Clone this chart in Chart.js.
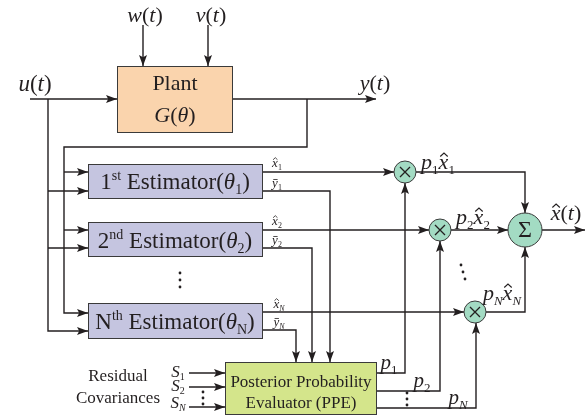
<!DOCTYPE html>
<html>
<head>
<meta charset="utf-8">
<script src="https://cdn.jsdelivr.net/npm/chart.js@4.4.0/dist/chart.umd.min.js"></script>
<style>
  html, body { margin: 0; padding: 0; background: #fff; }
  #wrap { width: 586px; height: 417px; }
</style>
</head>
<body>
<div id="wrap"><canvas id="diagram"></canvas></div>
<script>
// Block diagram of a multiple-model estimator, drawn on a 586 x 417 value grid
const INK = '#231f20';
const FONT = '"Liberation Serif", "Times New Roman", serif';

// blocks: [x0, x1, y0, y1]
const boxRects = [[117, 233, 66, 133], [88, 263, 164, 199], [88, 263, 222, 257], [88, 263, 303, 339], [225, 377, 362, 415]];
const boxFills = ['#fad4ad', '#c5c5e0', '#c5c5e0', '#c5c5e0', '#d4e58b'];

// product / sum junctions
const nodeX = [405, 440, 475, 525];
const nodeY = [172, 230, 312, 230];
const nodeR = [11, 11, 11, 17];
const nodeSym = ['×', '×', '×', 'Σ'];

// signal wires (polylines), arrow at the last point when flagged
const wires = [
    { pts: [[143, 25], [143, 66]], arrow: true },              // w(t)
    { pts: [[208, 25], [208, 66]], arrow: true },              // v(t)
    { pts: [[30, 99], [117, 99]], arrow: true },               // u(t)
    { pts: [[233, 99], [376, 99]], arrow: true },              // y(t)
    { pts: [[48, 99], [48, 331], [88, 331]], arrow: true },
    { pts: [[48, 191], [88, 191]], arrow: true },
    { pts: [[48, 248], [88, 248]], arrow: true },
    { pts: [[307, 99], [307, 147], [64, 147], [64, 313], [88, 313]], arrow: true },
    { pts: [[64, 172], [88, 172]], arrow: true },
    { pts: [[64, 230], [88, 230]], arrow: true },
    { pts: [[263, 172], [394, 172]], arrow: true },            // x1 hat
    { pts: [[263, 191], [330, 191], [330, 362]], arrow: true },
    { pts: [[263, 230], [429, 230]], arrow: true },            // x2 hat
    { pts: [[263, 248], [312, 248], [312, 362]], arrow: true },
    { pts: [[263, 312], [464, 312]], arrow: true },            // xN hat
    { pts: [[263, 330], [296, 330], [296, 362]], arrow: true },
    { pts: [[416, 172], [525, 172], [525, 213]], arrow: true },
    { pts: [[451, 230], [508, 230]], arrow: true },
    { pts: [[486, 312], [525, 312], [525, 247]], arrow: true },
    { pts: [[542, 230], [585, 230]], arrow: true },            // x(t) hat
    { pts: [[377, 373], [405, 373], [405, 183]], arrow: true }, // p1
    { pts: [[377, 391], [440, 391], [440, 241]], arrow: true }, // p2
    { pts: [[377, 408], [476, 408], [476, 323]], arrow: true }, // pN
    { pts: [[189, 373], [225, 373]], arrow: true },            // S1
    { pts: [[189, 387], [225, 387]], arrow: true },            // S2
    { pts: [[189, 407], [225, 407]], arrow: true }             // SN
];

// labels: style r = roman, i = italic, h = italic with hat, b = italic with bar,
// sub / isub = subscript, sup = superscript
const labels = [
    { x: 145, y: 15, s: 22, parts: [['w', 'i'], ['(', 'r'], ['t', 'i'], [')', 'r']] },
    { x: 211, y: 15, s: 22, parts: [['v', 'i'], ['(', 'r'], ['t', 'i'], [')', 'r']] },
    { x: 35, y: 83, s: 23, parts: [['u', 'i'], ['(', 'r'], ['t', 'i'], [')', 'r']] },
    { x: 375, y: 83, s: 22, parts: [['y', 'i'], ['(', 'r'], ['t', 'i'], [')', 'r']] },
    { x: 175, y: 83, s: 22, parts: [['Plant', 'r']] },
    { x: 175, y: 115, s: 22, parts: [['G', 'i'], ['(', 'r'], ['θ', 'i'], [')', 'r']] },
    { x: 175, y: 181, s: 23, parts: [['1', 'r'], ['st', 'sup'], [' Estimator', 'r'], ['(', 'r'], ['θ', 'i'], ['1', 'sub'], [')', 'r']] },
    { x: 175, y: 240, s: 23, parts: [['2', 'r'], ['nd', 'sup'], [' Estimator', 'r'], ['(', 'r'], ['θ', 'i'], ['2', 'sub'], [')', 'r']] },
    { x: 175, y: 321, s: 23, parts: [['N', 'r'], ['th', 'sup'], [' Estimator', 'r'], ['(', 'r'], ['θ', 'i'], ['N', 'sub'], [')', 'r']] },
    { x: 277, y: 163, s: 13, parts: [['x', 'h'], ['1', 'sub']] },
    { x: 277, y: 183, s: 13, parts: [['y', 'b'], ['1', 'sub']] },
    { x: 277, y: 221, s: 13, parts: [['x', 'h'], ['2', 'sub']] },
    { x: 277, y: 240, s: 13, parts: [['y', 'b'], ['2', 'sub']] },
    { x: 279, y: 304, s: 13, parts: [['x', 'h'], ['N', 'isub']] },
    { x: 279, y: 322, s: 13, parts: [['y', 'b'], ['N', 'isub']] },
    { x: 438, y: 162, s: 22, parts: [['p', 'i'], ['1', 'sub'], ['x', 'h'], ['1', 'sub']] },
    { x: 473, y: 217, s: 22, parts: [['p', 'i'], ['2', 'sub'], ['x', 'h'], ['2', 'sub']] },
    { x: 502, y: 293, s: 22, parts: [['p', 'i'], ['N', 'isub'], ['x', 'h'], ['N', 'isub']] },
    { x: 566, y: 213, s: 22, parts: [['x', 'h'], ['(', 'r'], ['t', 'i'], [')', 'r']] },
    { x: 389, y: 362, s: 21, parts: [['p', 'i'], ['1', 'sub']] },
    { x: 422, y: 380, s: 21, parts: [['p', 'i'], ['2', 'sub']] },
    { x: 458, y: 397, s: 21, parts: [['p', 'i'], ['N', 'isub']] },
    { x: 178, y: 371, s: 17, parts: [['S', 'i'], ['1', 'sub']] },
    { x: 178, y: 385, s: 17, parts: [['S', 'i'], ['2', 'sub']] },
    { x: 178, y: 402, s: 17, parts: [['S', 'i'], ['N', 'isub']] },
    { x: 118, y: 375, s: 17, parts: [['Residual', 'r']] },
    { x: 118, y: 397, s: 17, parts: [['Covariances', 'r']] },
    { x: 301, y: 381, s: 17, parts: [['Posterior Probability', 'r']] },
    { x: 301, y: 402, s: 17, parts: [['Evaluator (PPE)', 'r']] }
];

// vertical ellipsis dots: [x, y] of each dot
const dots = [
    [180, 273], [180, 280], [180, 287],
    [203, 392], [203, 398], [203, 404],
    [407, 393], [407, 399], [407, 405],
    [461, 265], [463, 272], [465, 279]
];

function partFont(style, s) {
    const small = style === 'sub' || style === 'isub' || style === 'sup';
    const size = small ? Math.round(s * 0.6) : s;
    const italic = style === 'i' || style === 'h' || style === 'b' || style === 'isub';
    return { font: (italic ? 'italic ' : '') + size + 'px ' + FONT, size: size };
}

function drawRich(ctx, cx, cy, s, parts) {
    const base = cy + s * 0.33;
    const items = parts.map(p => {
        const f = partFont(p[1], s);
        ctx.font = f.font;
        return { t: p[0], style: p[1], font: f.font, w: ctx.measureText(p[0]).width };
    });
    const total = items.reduce((a, it) => a + it.w, 0);
    let x = cx - total / 2;
    ctx.fillStyle = INK;
    ctx.strokeStyle = INK;
    ctx.textAlign = 'left';
    ctx.textBaseline = 'alphabetic';
    items.forEach(it => {
        let y = base;
        if (it.style === 'sub' || it.style === 'isub') y = base + s * 0.22;
        if (it.style === 'sup') y = base - s * 0.38;
        ctx.font = it.font;
        ctx.fillText(it.t, x, y);
        if (it.style === 'h') {
            const mx = x + it.w * 0.55;
            ctx.lineWidth = Math.max(0.8, s * 0.05);
            ctx.beginPath();
            ctx.moveTo(mx - s * 0.17, base - s * 0.58);
            ctx.lineTo(mx, base - s * 0.74);
            ctx.lineTo(mx + s * 0.17, base - s * 0.58);
            ctx.stroke();
        }
        if (it.style === 'b') {
            ctx.lineWidth = Math.max(0.8, s * 0.05);
            ctx.beginPath();
            ctx.moveTo(x + it.w * 0.2, base - s * 0.6);
            ctx.lineTo(x + it.w * 0.95, base - s * 0.6);
            ctx.stroke();
        }
        x += it.w;
    });
}

const diagramPlugin = {
    id: 'diagram',
    beforeDatasetsDraw(chart) {
        const { ctx, scales: { x, y } } = chart;
        ctx.save();
        boxRects.forEach((r, i) => {
            const x0 = x.getPixelForValue(r[0]), x1 = x.getPixelForValue(r[1]);
            const y0 = y.getPixelForValue(r[2]), y1 = y.getPixelForValue(r[3]);
            ctx.fillStyle = boxFills[i];
            ctx.fillRect(x0, y0, x1 - x0, y1 - y0);
            ctx.strokeStyle = '#3a3a3a';
            ctx.lineWidth = 1;
            ctx.strokeRect(x0 + 0.5, y0 + 0.5, x1 - x0 - 1, y1 - y0 - 1);
        });
        ctx.restore();
    },
    afterDatasetsDraw(chart) {
        const { ctx, scales: { x, y } } = chart;
        ctx.save();
        // arrowheads
        ctx.fillStyle = INK;
        wires.forEach(w => {
            if (!w.arrow) return;
            const a = w.pts[w.pts.length - 2], b = w.pts[w.pts.length - 1];
            const ax = x.getPixelForValue(a[0]), ay = y.getPixelForValue(a[1]);
            const bx = x.getPixelForValue(b[0]), by = y.getPixelForValue(b[1]);
            const len = Math.hypot(bx - ax, by - ay);
            const ux = (bx - ax) / len, uy = (by - ay) / len;
            const L = 11, hw = 4;
            ctx.beginPath();
            ctx.moveTo(bx, by);
            ctx.lineTo(bx - ux * L - uy * hw, by - uy * L + ux * hw);
            ctx.lineTo(bx - ux * L * 0.8, by - uy * L * 0.8);
            ctx.lineTo(bx - ux * L + uy * hw, by - uy * L - ux * hw);
            ctx.closePath();
            ctx.fill();
        });
        // junction symbols
        nodeX.forEach((nx, i) => {
            const px = x.getPixelForValue(nx), py = y.getPixelForValue(nodeY[i]);
            ctx.fillStyle = INK;
            ctx.textAlign = 'center';
            ctx.textBaseline = 'middle';
            if (nodeSym[i] === 'Σ') {
                ctx.font = '24px ' + FONT;
                ctx.fillText('Σ', px, py + 1);
            } else {
                ctx.strokeStyle = INK;
                ctx.lineWidth = 1.3;
                const d = 5;
                ctx.beginPath();
                ctx.moveTo(px - d, py - d); ctx.lineTo(px + d, py + d);
                ctx.moveTo(px + d, py - d); ctx.lineTo(px - d, py + d);
                ctx.stroke();
            }
        });
        // ellipsis dots
        dots.forEach(d => {
            ctx.beginPath();
            ctx.arc(x.getPixelForValue(d[0]), y.getPixelForValue(d[1]), 1.4, 0, Math.PI * 2);
            ctx.fill();
        });
        // text
        labels.forEach(l => drawRich(ctx, x.getPixelForValue(l.x), y.getPixelForValue(l.y), l.s, l.parts));
        ctx.restore();
    }
};

const datasets = wires.map(w => ({
    data: w.pts.map(p => ({ x: p[0], y: p[1] })),
    showLine: true,
    borderColor: INK,
    borderWidth: 1.4,
    pointRadius: 0,
    tension: 0,
    fill: false,
    order: 1
}));
datasets.push({
    data: nodeX.map((nx, i) => ({ x: nx, y: nodeY[i] })),
    showLine: false,
    pointRadius: nodeR,
    pointHoverRadius: nodeR,
    pointBackgroundColor: '#a3dbc3',
    pointBorderColor: '#3a3a3a',
    pointBorderWidth: 1,
    order: 0
});

new Chart(document.getElementById('diagram'), {
    type: 'scatter',
    data: { datasets: datasets },
    options: {
        responsive: true,
        maintainAspectRatio: false,
        animation: false,
        events: [],
        layout: { padding: 0, autoPadding: false },
        plugins: { legend: { display: false }, tooltip: { enabled: false } },
        scales: {
            x: { type: 'linear', min: 0, max: 586, display: false },
            y: { type: 'linear', min: 0, max: 417, reverse: true, display: false }
        }
    },
    plugins: [diagramPlugin]
});
</script>
</body>
</html>
